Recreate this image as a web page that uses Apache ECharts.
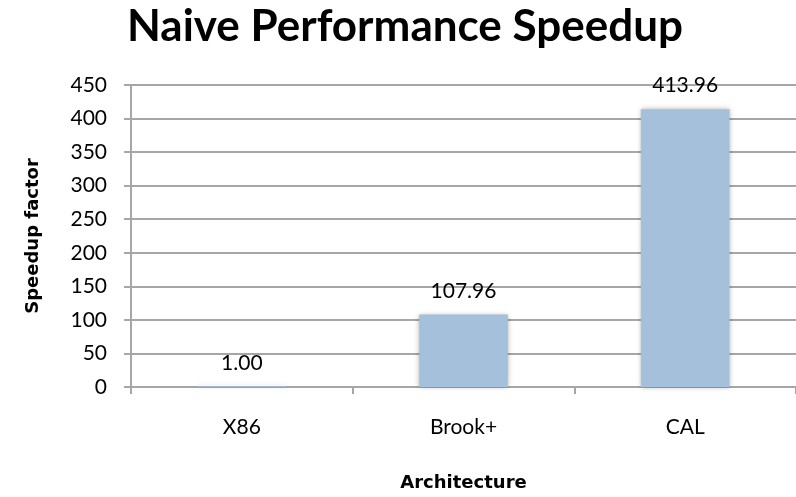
<!DOCTYPE html>
<html>
<head>
<meta charset="utf-8">
<script src="https://cdn.jsdelivr.net/npm/echarts@6/dist/echarts.min.js"></script>
<style>
html,body{margin:0;padding:0;background:#fff;}
#main{width:796px;height:497px;}
</style>
</head>
<body>
<div id="main"></div>
<script>
const categories = ['X86', 'Brook+', 'CAL'];
const speedup = [1.00, 107.96, 413.96];
const titleText = 'Naive Performance Speedup';
const xName = 'Architecture';
const yName = 'Speedup factor';

const FONT = 'Lato';
const NAME_FONT = 'DejaVu Sans';
const chart = echarts.init(document.getElementById('main'), null, {renderer: 'canvas'});
chart.setOption({
  animation: false,
  backgroundColor: '#ffffff',
  title: {
    text: titleText,
    left: 127,
    top: 5,
    padding: 0,
    textStyle: {fontFamily: FONT, fontWeight: 'bold', fontSize: 44, color: '#000'}
  },
  grid: {left: 131, top: 85, width: 666, height: 304},
  xAxis: {
    type: 'category',
    data: categories,
    name: xName,
    nameLocation: 'middle',
    nameGap: 87,
    nameTextStyle: {fontFamily: NAME_FONT, fontWeight: 'bold', fontSize: 18, color: '#000'},
    axisLine: {show: true, lineStyle: {color: '#a6a6a6', width: 2}},
    axisTick: {show: true, inside: false, length: 7, alignWithLabel: false, lineStyle: {color: '#a6a6a6', width: 2}},
    axisLabel: {margin: 30, fontFamily: FONT, fontSize: 21, color: '#000'},
    splitLine: {show: false}
  },
  yAxis: {
    type: 'value',
    min: 0,
    max: 450,
    interval: 50,
    name: yName,
    nameLocation: 'middle',
    nameGap: 89,
    nameTextStyle: {fontFamily: NAME_FONT, fontWeight: 'bold', fontSize: 18, color: '#000'},
    axisLine: {show: true, lineStyle: {color: '#a6a6a6', width: 2}},
    axisTick: {show: true, inside: false, length: 7, lineStyle: {color: '#a6a6a6', width: 2}},
    axisLabel: {margin: 24, fontFamily: FONT, fontSize: 21, color: '#000'},
    splitLine: {show: true, lineStyle: {color: '#a6a6a6', width: 2}}
  },
  series: [{
    type: 'bar',
    data: speedup,
    barWidth: '40%',
    itemStyle: {
      color: '#a5c0da',
      shadowBlur: 5,
      shadowColor: 'rgba(0,0,0,0.3)',
      shadowOffsetX: 0,
      shadowOffsetY: 0
    },
    label: {
      show: true,
      position: 'top',
      distance: 13,
      fontFamily: FONT,
      fontSize: 21,
      color: '#000',
      formatter: p => p.value.toFixed(2)
    }
  }]
});
</script>
</body>
</html>
